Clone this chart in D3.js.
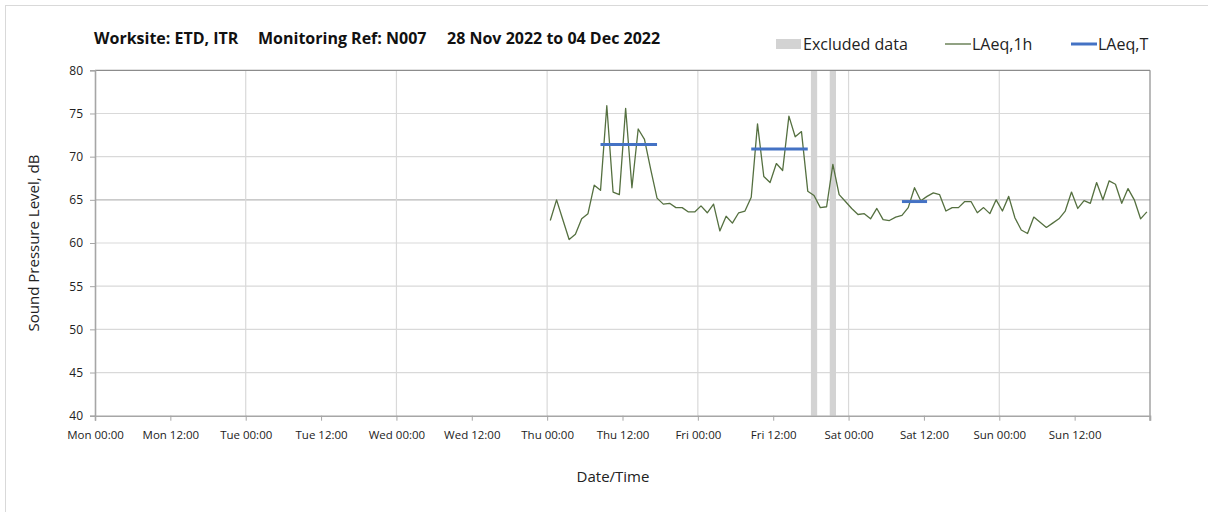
<!DOCTYPE html>
<html>
<head>
<meta charset="utf-8">
<script src="https://cdnjs.cloudflare.com/ajax/libs/d3/7.8.5/d3.min.js"></script>
<style>
	body { margin: 0; background: #fff; }
	svg { display: block; font-family: "Open Sans", sans-serif; }
</style>
</head>
<body>
<div id="chart"></div>
<script>
(function(){
	var w = 1208, h = 512;
	var left = 95, right = 1150, top = 70.3, bottom = 415.7;

	// hourly LAeq,1h values, Thu 01 Dec 00:00 onwards
	var startHour = "2022-12-01T00:00:00Z";
	var thu = [62.6, 65.0, 62.7, 60.4, 61.0, 62.8, 63.4, 66.7, 66.1, 75.9, 65.9, 65.6, 75.6, 66.4, 73.2, 72.0, 68.5, 65.2, 64.5, 64.6, 64.1, 64.1, 63.6, 63.6];
	var fri = [64.3, 63.5, 64.5, 61.4, 63.1, 62.3, 63.5, 63.7, 65.3, 73.8, 67.7, 67.0, 69.2, 68.4, 74.7, 72.3, 72.9, 66.0, 65.5, 64.1, 64.2, 69.1, 65.6, 64.8];
	var sat = [64.0, 63.3, 63.4, 62.8, 64.0, 62.7, 62.6, 63.0, 63.2, 64.1, 66.4, 64.9, 65.4, 65.8, 65.6, 63.7, 64.1, 64.1, 64.8, 64.8, 63.5, 64.1, 63.4, 65.0];
	var sun = [63.7, 65.4, 62.9, 61.5, 61.1, 63.0, 62.4, 61.8, 62.3, 62.8, 63.7, 65.9, 64.0, 64.9, 64.6, 67.0, 65.0, 67.2, 66.8, 64.6, 66.3, 65.0, 62.8, 63.6];

	// LAeq,T periods
	var periodStart = ["2022-12-01T08:30:00Z", "2022-12-02T08:30:00Z", "2022-12-03T08:30:00Z"];
	var periodEnd   = ["2022-12-01T17:30:00Z", "2022-12-02T17:30:00Z", "2022-12-03T12:30:00Z"];
	var periodValue = [71.4, 70.9, 64.8];

	// excluded hours
	var exclStart = ["2022-12-02T18:00:00Z", "2022-12-02T21:00:00Z"];
	var exclEnd   = ["2022-12-02T19:00:00Z", "2022-12-02T22:00:00Z"];

	var yTicks = [40, 45, 50, 55, 60, 65, 70, 75, 80];
	var xDomain = ["2022-11-28T00:00:00Z", "2022-12-05T00:00:00Z"];

	var hourly = thu.concat(fri, sat, sun);
	var t0 = new Date(startHour).getTime();
	var points = hourly.map(function(v, i){
		return {t: new Date(t0 + (i + 0.5) * 3600000), v: v};
	});

	var x = d3.scaleUtc()
		.domain(xDomain.map(function(d){ return new Date(d); }))
		.range([left, right]);
	var y = d3.scaleLinear().domain([40, 80]).range([bottom, top]);

	var svg = d3.select("#chart").append("svg")
		.attr("width", w)
		.attr("height", h);

	// outer frame
	svg.append("rect")
		.attr("x", 5.5).attr("y", 5.5)
		.attr("width", w + 10).attr("height", h + 10)
		.attr("fill", "none").attr("stroke", "#d9d9d9");

	var dayTicks = d3.utcDay.range(x.domain()[0], x.domain()[1]);
	var halfTicks = d3.utcHour.every(12).range(x.domain()[0], x.domain()[1]);

	// horizontal grid
	svg.append("g").selectAll("line")
		.data(yTicks.filter(function(d){ return d > 40 && d < 80; }))
		.enter().append("line")
		.attr("x1", left).attr("x2", right)
		.attr("y1", function(d){ return y(d); })
		.attr("y2", function(d){ return y(d); })
		.attr("stroke", function(d){ return d == 65 ? "#b8b8b8" : "#d9d9d9"; })
		.attr("stroke-width", 1.2);

	// vertical grid on days
	svg.append("g").selectAll("line")
		.data(dayTicks.slice(1))
		.enter().append("line")
		.attr("x1", function(d){ return x(d); })
		.attr("x2", function(d){ return x(d); })
		.attr("y1", top).attr("y2", bottom)
		.attr("stroke", "#d9d9d9")
		.attr("stroke-width", 1.2);

	// excluded data
	svg.append("g").selectAll("rect")
		.data(exclStart)
		.enter().append("rect")
		.attr("x", function(d){ return x(new Date(d)); })
		.attr("width", function(d, i){ return x(new Date(exclEnd[i])) - x(new Date(d)); })
		.attr("y", top).attr("height", bottom - top)
		.attr("fill", "#d3d3d3");

	// top + right border
	svg.append("line").attr("x1", left).attr("x2", right).attr("y1", top).attr("y2", top)
		.attr("stroke", "#8c8c8c").attr("stroke-width", 1.2);
	svg.append("line").attr("x1", right).attr("x2", right).attr("y1", top).attr("y2", bottom + 5)
		.attr("stroke", "#8c8c8c").attr("stroke-width", 1.2);

	// y axis
	var yAxis = d3.axisLeft(y).tickValues(yTicks).tickSize(5).tickPadding(7);
	var gy = svg.append("g").attr("transform", "translate(" + left + ",0)").call(yAxis);
	gy.select(".domain").attr("stroke", "#a6a6a6").attr("stroke-width", 1.6);
	gy.selectAll(".tick line").attr("stroke", "#a6a6a6");
	gy.selectAll(".tick text")
		.attr("font-family", "Open Sans").attr("font-size", 12).attr("fill", "#222");

	// x axis
	var xAxis = d3.axisBottom(x).tickValues(halfTicks).tickSize(5).tickPadding(10)
		.tickFormat(d3.utcFormat("%a %H:%M"));
	var gx = svg.append("g").attr("transform", "translate(0," + bottom + ")").call(xAxis);
	gx.select(".domain").attr("stroke", "#a6a6a6").attr("stroke-width", 1.6);
	gx.selectAll(".tick line").attr("stroke", "#a6a6a6");
	gx.selectAll(".tick text")
		.attr("font-family", "Open Sans").attr("font-size", 11.5).attr("fill", "#222");

	// LAeq,1h line
	var line = d3.line()
		.x(function(d){ return x(d.t); })
		.y(function(d){ return y(d.v); });
	svg.append("path")
		.datum(points)
		.attr("d", line)
		.attr("fill", "none")
		.attr("stroke", "#557040")
		.attr("stroke-width", 1.3)
		.attr("stroke-linejoin", "round");

	// LAeq,T segments
	svg.append("g").selectAll("line")
		.data(periodValue)
		.enter().append("line")
		.attr("x1", function(d, i){ return x(new Date(periodStart[i])); })
		.attr("x2", function(d, i){ return x(new Date(periodEnd[i])); })
		.attr("y1", function(d){ return y(d); })
		.attr("y2", function(d){ return y(d); })
		.attr("stroke", "#4472c4")
		.attr("stroke-width", 3);

	// title
	var title = svg.append("g")
		.attr("font-weight", "bold").attr("font-size", 16).attr("fill", "#111");
	title.append("text").attr("x", 94).attr("y", 44).text("Worksite: ETD, ITR");
	title.append("text").attr("x", 258).attr("y", 44).text("Monitoring Ref: N007");
	title.append("text").attr("x", 447).attr("y", 44).text("28 Nov 2022 to 04 Dec 2022");

	// legend
	var lg = svg.append("g").attr("font-size", 16).attr("fill", "#222");
	lg.append("rect").attr("x", 776).attr("y", 39).attr("width", 25).attr("height", 10).attr("fill", "#d3d3d3");
	lg.append("text").attr("x", 803).attr("y", 50).text("Excluded data");
	lg.append("line").attr("x1", 945).attr("x2", 971).attr("y1", 44).attr("y2", 44)
		.attr("stroke", "#557040").attr("stroke-width", 1.3);
	lg.append("text").attr("x", 972).attr("y", 50).text("LAeq,1h");
	lg.append("line").attr("x1", 1071).attr("x2", 1097).attr("y1", 44).attr("y2", 44)
		.attr("stroke", "#4472c4").attr("stroke-width", 3);
	lg.append("text").attr("x", 1098).attr("y", 50).text("LAeq,T");

	// axis titles
	svg.append("text")
		.attr("transform", "translate(39," + ((top + bottom) / 2) + ") rotate(-90)")
		.attr("text-anchor", "middle")
		.attr("font-size", 15).attr("fill", "#222")
		.text("Sound Pressure Level, dB");
	svg.append("text")
		.attr("x", 613).attr("y", 482)
		.attr("text-anchor", "middle")
		.attr("font-size", 15).attr("fill", "#222")
		.text("Date/Time");
})();
</script>
</body>
</html>
